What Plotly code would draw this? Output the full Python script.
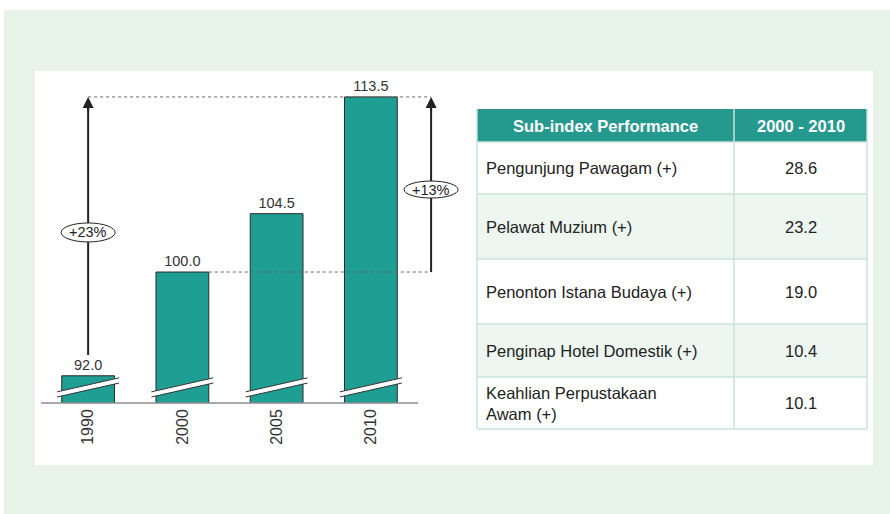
import plotly.graph_objects as go

# ---------------- data ----------------
years = ["1990", "2000", "2005", "2010"]
index_values = [92.0, 100.0, 104.5, 113.5]
growth_labels = ["+23%", "+13%"]

table_header = ["Sub-index Performance", "2000 - 2010"]
sub_index = ["Pengunjung Pawagam (+)", "Pelawat Muzium (+)", "Penonton Istana Budaya (+)",
             "Penginap Hotel Domestik (+)", "Keahlian Perpustakaan<br>Awam (+)"]
performance = [28.6, 23.2, 19.0, 10.4, 10.1]

# ---------------- style / layout ----------------
W, H = 890, 514
FONT = "Arial, Liberation Sans, sans-serif"
TEAL = "#1f9e94"
HEAD = "#26998f"
ALT = "#edf6f1"
BORDER = "#c9e2da"
DARK = "#222222"


def px(x):
    return x / W


def py(y):
    return 1 - y / H


xpos = list(range(len(years)))
fig = go.Figure()
fig.add_trace(go.Bar(
    x=xpos, y=index_values, width=0.56,
    marker=dict(color=TEAL, line=dict(color="#2b2b2b", width=1)),
    text=[f"{v:.1f}" for v in index_values], textposition="outside",
    textfont=dict(family=FONT, size=14.5, color="#333333"),
    hoverinfo="skip", showlegend=False,
))

shapes = []
annotations = []
# backgrounds
shapes.append(dict(type="rect", xref="paper", yref="paper", x0=px(4), x1=1, y0=0, y1=py(10),
                   fillcolor="#e7f3e7", line=dict(width=0), layer="below"))
shapes.append(dict(type="rect", xref="paper", yref="paper", x0=px(35), x1=px(873), y0=py(465), y1=py(71),
                   fillcolor="white", line=dict(width=0), layer="below"))

# axis break marks on each bar
bc, bh, bw, bt = 91.1, 0.54, 0.329, 0.2
for c in xpos:
    shapes.append(dict(type="path", xref="x", yref="y",
                       path=f"M{c-bw},{bc-bh-bt} L{c+bw},{bc+bh-bt} L{c+bw},{bc+bh+bt} L{c-bw},{bc-bh+bt} Z",
                       fillcolor="white", line=dict(width=0), layer="above"))
    for s in (-bt, bt):
        shapes.append(dict(type="line", xref="x", yref="y", x0=c-bw, y0=bc-bh+s, x1=c+bw, y1=bc+bh+s,
                           line=dict(color="#333333", width=1), layer="above"))

# baseline (category axis line)
shapes.append(dict(type="line", xref="x", yref="y domain", x0=-0.5, x1=3.5, y0=0, y1=0,
                   line=dict(color="#8c8c8c", width=1.5), layer="above"))

# dotted reference lines
right_x = 3.639
shapes.append(dict(type="line", xref="x", yref="y", x0=0, x1=right_x, y0=index_values[3], y1=index_values[3],
                   line=dict(color="#666666", width=1, dash="dot")))
shapes.append(dict(type="line", xref="x", yref="y", x0=1.28, x1=right_x, y0=index_values[1], y1=index_values[1],
                   line=dict(color="#666666", width=1, dash="dot")))

# arrows: shaft as shape (under the ellipse), head as short annotation arrow
for xa, y_from in [(0, 93.6), (right_x, index_values[1])]:
    shapes.append(dict(type="line", xref="x", yref="y", x0=xa, x1=xa, y0=y_from, y1=index_values[3] - 0.3,
                       line=dict(color=DARK, width=2), layer="above"))
    annotations.append(dict(x=xa, y=index_values[3], ax=xa, ay=index_values[3] - 1.2, xref="x", yref="y",
                            axref="x", ayref="y", text="", showarrow=True, arrowhead=2, arrowsize=1.1,
                            arrowwidth=2, arrowcolor=DARK, standoff=0, startstandoff=0))

# ellipse labels
for xc, yc, hh, lab in [(0, 103.05, 9.5, growth_labels[0]), (right_x, 106.36, 8.5, growth_labels[1])]:
    shapes.append(dict(type="circle", xref="x", yref="y", xsizemode="pixel", ysizemode="pixel",
                       xanchor=xc, yanchor=yc, x0=-27, x1=27, y0=-hh, y1=hh,
                       fillcolor="white", line=dict(color=DARK, width=1), layer="above"))
    annotations.append(dict(x=xc, y=yc, xref="x", yref="y", text=lab, showarrow=False,
                            font=dict(family=FONT, size=14.5, color=DARK)))

# ---------------- table ----------------
tx0, tx1, tx2 = 477, 734, 867
row_edges = [109, 142, 194, 259, 324, 377, 429]
# header
shapes.append(dict(type="rect", xref="paper", yref="paper", x0=px(tx0), x1=px(tx2),
                   y0=py(row_edges[1]), y1=py(row_edges[0]), fillcolor=HEAD, line=dict(width=0)))
for (a, b), txt in zip([(tx0, tx1), (tx1, tx2)], table_header):
    annotations.append(dict(xref="paper", yref="paper", x=px((a + b) / 2), y=py((row_edges[0] + row_edges[1]) / 2),
                            text=f"<b>{txt}</b>", showarrow=False, xanchor="center", yanchor="middle",
                            font=dict(family=FONT, size=16.5, color="white")))
# body rows
for i, (lab, val) in enumerate(zip(sub_index, performance)):
    top, bot = row_edges[i + 1], row_edges[i + 2]
    shapes.append(dict(type="rect", xref="paper", yref="paper", x0=px(tx0), x1=px(tx2),
                       y0=py(bot), y1=py(top), fillcolor=("white" if i % 2 == 0 else ALT),
                       line=dict(width=0)))
    mid = (top + bot) / 2
    annotations.append(dict(xref="paper", yref="paper", x=px(tx0 + 7), y=py(mid), text=lab, showarrow=False,
                            xanchor="left", yanchor="middle", align="left",
                            font=dict(family=FONT, size=16.5, color=DARK)))
    annotations.append(dict(xref="paper", yref="paper", x=px((tx1 + tx2) / 2), y=py(mid), text=f"{val:.1f}",
                            showarrow=False, xanchor="center", yanchor="middle",
                            font=dict(family=FONT, size=16.5, color=DARK)))
# grid lines
for yy in row_edges[1:]:
    shapes.append(dict(type="line", xref="paper", yref="paper", x0=px(tx0), x1=px(tx2), y0=py(yy), y1=py(yy),
                       line=dict(color=BORDER, width=1.5)))
for xx in (tx0, tx1, tx2):
    shapes.append(dict(type="line", xref="paper", yref="paper", x0=px(xx), x1=px(xx),
                       y0=py(row_edges[-1]), y1=py(row_edges[0]), line=dict(color=BORDER, width=1.5)))

x_left, x_right, unit = 41, 475, 94.25
fig.update_layout(
    width=W, height=H, margin=dict(l=0, r=0, t=0, b=0),
    paper_bgcolor="white", plot_bgcolor="rgba(0,0,0,0)",
    shapes=shapes, annotations=annotations,
    xaxis=dict(domain=[px(x_left), px(x_right)], range=[-0.5, -0.5 + (x_right - x_left) / unit],
               tickvals=xpos, ticktext=years,
               tickangle=-90, showgrid=False, zeroline=False, showline=False,
               ticks="", ticklabelstandoff=2,
               tickfont=dict(family=FONT, size=16, color="#333333"), fixedrange=True),
    yaxis=dict(domain=[py(403), py(71)], range=[89.90, 115.5], visible=False, fixedrange=True),
    font=dict(family=FONT),
)

fig.write_html("out.html", config={"displayModeBar": False},
               post_script="document.body.style.margin='0px';")
